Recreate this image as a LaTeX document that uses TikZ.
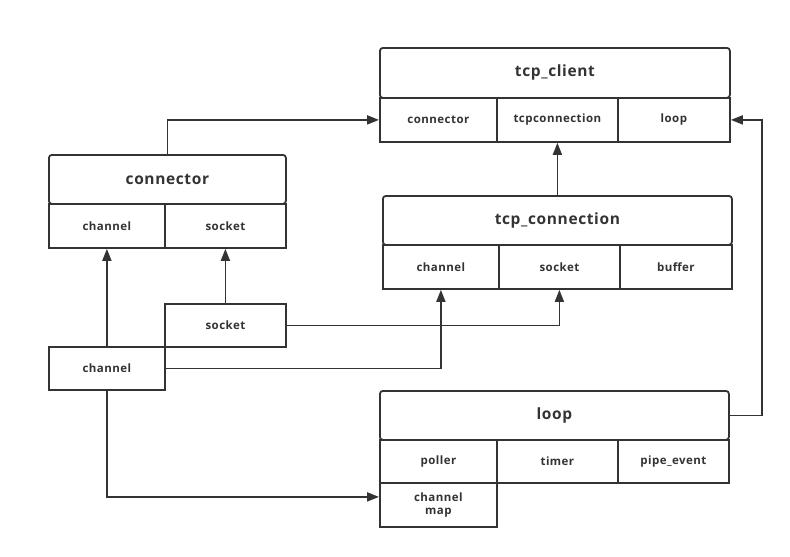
\documentclass[tikz,border=0pt]{standalone}
\usepackage{fontspec}
\setmainfont{Open Sans}[LetterSpace=4]
\usetikzlibrary{arrows.meta}
\definecolor{linegray}{HTML}{333333}
\tikzset{
  box/.style={draw=linegray, line width=1.8pt, inner sep=0pt, anchor=north west,
    text=linegray, align=center, font=\bfseries\fontsize{11.5}{13}\selectfont},
  header/.style={box, rounded corners=3pt, font=\bfseries\fontsize{15.5}{18}\selectfont},
  link/.style={draw=linegray, line width=1.8pt, -{Triangle[length=12pt,width=9pt]}}
}

\begin{document}
\begin{tikzpicture}[x=1pt,y=-1pt]
    \useasboundingbox (0,0) rectangle (790,557);
    %tcp_client
    \node[header, minimum width=350pt, minimum height=50pt] (client) at (379,47) {tcp\_client};
    \foreach \n/\t/\x/\w in {client-conn/connector/379/117, client-tcp/tcpconnection/496/121, client-loop/loop/617/112}
        \node[box, minimum width=\w pt, minimum height=44pt] (\n) at (\x,97) {\t};
    %tcp_connection
    \node[header, minimum width=349pt, minimum height=49pt] (conn) at (382,195) {tcp\_connection};
    \foreach \n/\t/\x/\w in {conn-chan/channel/382/116, conn-sock/socket/498/121, conn-buf/buffer/619/112}
        \node[box, minimum width=\w pt, minimum height=44pt] (\n) at (\x,244) {\t};
    %connector
    \node[header, minimum width=237pt, minimum height=49pt] (connector) at (48,154) {connector};
    \foreach \n/\t/\x/\w in {connector-chan/channel/48/116, connector-sock/socket/164/121}
        \node[box, minimum width=\w pt, minimum height=44pt] (\n) at (\x,203) {\t};
    %loop
    \node[header, minimum width=349pt, minimum height=49pt] (loop) at (379,390) {loop};
    \foreach \n/\t/\x/\w in {loop-poll/poller/379/117, loop-timer/timer/496/121, loop-pipe/pipe\_event/617/111}
        \node[box, minimum width=\w pt, minimum height=43pt] (\n) at (\x,439) {\t};
    \node[box, minimum width=117pt, minimum height=44pt] (chanmap) at (379,482) {channel\\map};
    %members
    \node[box, minimum width=121pt, minimum height=43pt] (sock) at (164,303) {socket};
    \node[box, minimum width=116pt, minimum height=43pt] (chan) at (48,346) {channel};
    %links
    \draw[link] (connector.north) |- (client-conn.west);
    \draw[link] (conn.north) -- (client-tcp.south);
    \draw[link] (loop.east) -- ++(32,0) |- (client-loop.east);
    \draw[link] (chan.north) -- (connector-chan.south);
    \draw[link] (sock.north) -- (connector-sock.south);
    \draw[link] (sock.east) -| (conn-sock.south);
    \draw[link] (chan.east) -| (conn-chan.south);
    \draw[link] (chan.south) |- ([yshift=8pt]chanmap.west);
\end{tikzpicture}
\end{document}
